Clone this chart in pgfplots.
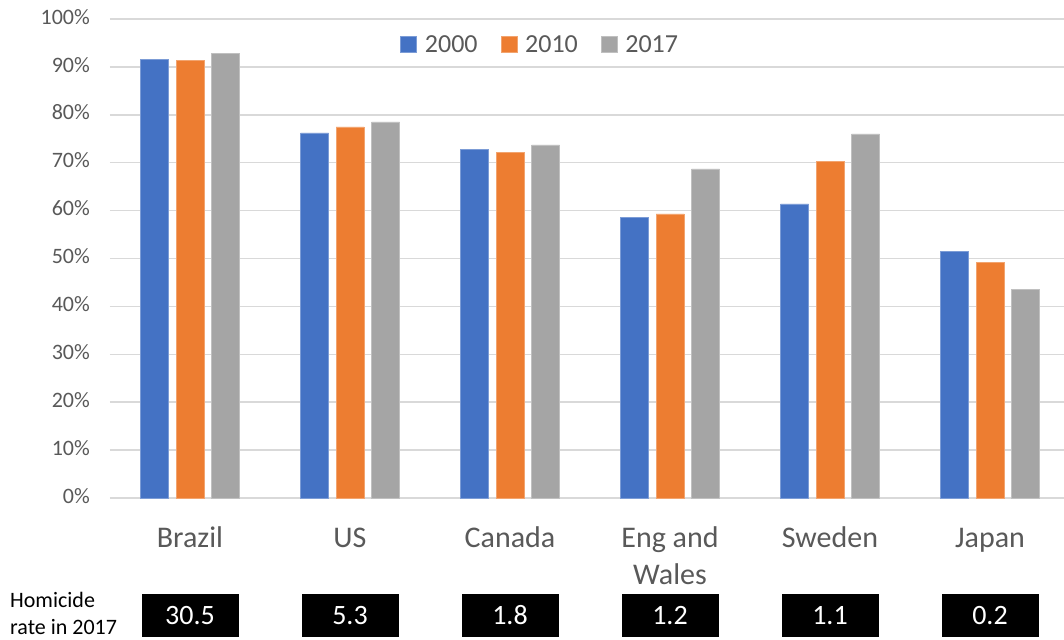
\documentclass[border=0pt]{standalone}
\usepackage{fontspec}
\setmainfont{Carlito}
\usepackage{pgfplots}
\pgfplotsset{compat=1.18}
\definecolor{cblue}{HTML}{4472C4}
\definecolor{corange}{HTML}{ED7D31}
\definecolor{cgray}{HTML}{A5A5A5}
\definecolor{cgrid}{HTML}{D9D9D9}
\definecolor{ctext}{HTML}{595959}
\begin{document}
\begin{tikzpicture}
\begin{axis}[
  scale only axis,
  width=954pt, height=479pt,
  xmin=-0.5, xmax=5.4625,
  ymin=0, ymax=100,
  ybar=7.5pt, bar width=28pt,
  axis line style={draw=none},
  major tick length=0pt,
  ymajorgrids, grid style={cgrid, line width=1.5pt},
  ytick={0,10,...,100},
  yticklabels={0\%,10\%,20\%,30\%,40\%,50\%,60\%,70\%,80\%,90\%,100\%},
  yticklabel style={font=\fontsize{22}{26}\selectfont, text=ctext, anchor=east, inner sep=0pt, xshift=-20pt},
  xtick={0,1,2,3,4,5},
  xticklabels={Brazil,US,Canada,{Eng and\\Wales},Sweden,Japan},
  typeset ticklabels with strut,
  xticklabel style={font=\fontsize{30}{37}\selectfont, text=ctext, anchor=north, align=center, inner sep=0pt, yshift=-23pt},
  clip=false,
  legend columns=3,
  legend style={draw=none, fill=none, at={(rel axis cs:0.451,0.947)}, anchor=center,
     font=\fontsize{26}{30}\selectfont, text=ctext,
     /tikz/every odd column/.append style={column sep=6pt},
     /tikz/every even column/.append style={column sep=21pt}},
  legend image code/.code={\fill[#1] (0pt,-8pt) rectangle (16pt,8pt);},
]
\addplot[fill=cblue, draw=cblue!70!white, line width=0.5pt] coordinates {(0,91.6) (1,76.2) (2,72.8) (3,58.6) (4,61.4) (5,51.5)};
\addplot[fill=corange, draw=corange!70!white, line width=0.5pt] coordinates {(0,91.3) (1,77.5) (2,72.2) (3,59.3) (4,70.3) (5,49.2)};
\addplot[fill=cgray, draw=cgray!70!white, line width=0.5pt] coordinates {(0,92.9) (1,78.5) (2,73.7) (3,68.7) (4,76.0) (5,43.5)};
\legend{2000,2010,2017}
\foreach \i/\v in {0/30.5,1/5.3,2/1.8,3/1.2,4/1.1,5/0.2}{
  \edef\tmp{\noexpand\node[fill=black, text=white, minimum width=97pt, minimum height=43pt, inner sep=0pt, font=\noexpand\fontsize{28}{32}\noexpand\selectfont] at ([yshift=-117.5pt]axis cs:\i,0) {\v};}
  \tmp
}
\node[anchor=west, align=left, inner sep=0pt, font=\fontsize{22}{27}\selectfont] at ([xshift=-100pt, yshift=-115pt]rel axis cs:0,0) {Homicide\\rate in 2017};
\end{axis}
\pgfresetboundingbox
\useasboundingbox (-110pt,-141pt) rectangle (954pt,498pt);
\end{tikzpicture}
\end{document}
